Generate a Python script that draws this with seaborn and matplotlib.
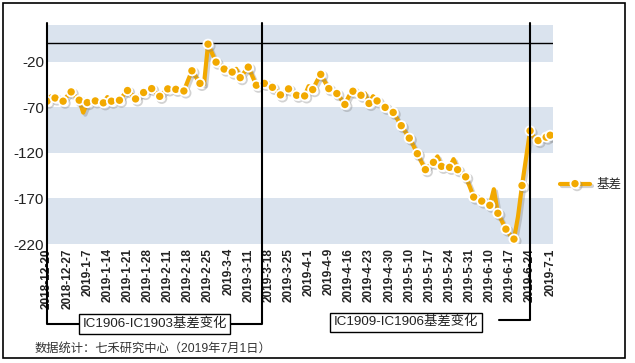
import numpy as np
import pandas as pd
import matplotlib
matplotlib.use("Agg")
import matplotlib.pyplot as plt
import matplotlib.patheffects as pe
import matplotlib.transforms as mtransforms
from matplotlib.lines import Line2D
import seaborn as sns

# weekly labels, one every 5 trading days
tick_labels = [
    "2018-12-20", "2018-12-27", "2019-1-7", "2019-1-14", "2019-1-21", "2019-1-28",
    "2019-2-11", "2019-2-18", "2019-2-25", "2019-3-4", "2019-3-11", "2019-3-18",
    "2019-3-25", "2019-4-1", "2019-4-9", "2019-4-16", "2019-4-23", "2019-4-30",
    "2019-5-10", "2019-5-17", "2019-5-24", "2019-5-31", "2019-6-10", "2019-6-17",
    "2019-6-24", "2019-7-1",
]
tick_every = 5

# daily basis values (one per trading day)
basis = [
    -63.5, -58, -60, -62, -63.5, -58, -53.3, -58, -62.4, -76,
    -65, -64, -63.2, -64, -65.3, -59, -63.5, -63, -62.5, -57,
    -51.8, -56, -61, -57, -54, -52, -49.7, -54, -58.2, -54,
    -50, -50, -50.5, -51, -52.3, -41, -30.2, -37, -44, -45,
    -1, -11, -20.7, -24, -28.3, -30, -31.6, -28, -37.7, -32,
    -26.2, -36, -46, -45, -44, -46, -48.3, -52, -56.6, -53,
    -50, -53, -57, -57, -57.7, -47, -50.8, -42, -34.1, -42,
    -49.7, -52, -55.1, -61, -67.1, -58, -52.6, -55, -57, -55,
    -66, -58, -63.2, -67, -70.3, -72, -75.8, -83, -90.3, -97,
    -104, -112, -121, -130, -138.5, -134, -130.5, -124, -134.9, -136,
    -136, -127, -138.5, -142, -146.4, -157, -168.6, -171, -173, -175,
    -177.6, -160, -186.3, -195, -203.7, -210, -214.6, -190, -155.9, -126,
    -96, -103, -106.6, -105, -102.9, -100.8,
]
marked = list(range(0, 125, 2)) + [125]

series_name = "基差"
roll_1 = 53.3   # IC1903 -> IC1906
roll_2 = 120.0  # IC1906 -> IC1909
bracket_1_label = "IC1906-IC1903基差变化"
bracket_2_label = "IC1909-IC1906基差变化"
source_note = "数据统计：七禾研究中心（2019年7月1日）"

df = pd.DataFrame({"pos": np.arange(len(basis)), "basis": basis})

sns.set_style("white")
plt.rcParams["font.family"] = ["Liberation Sans", "Noto Sans CJK SC"]

ORANGE = "#F2A900"
BAND = "#DAE3EE"
shadow = [pe.SimpleLineShadow(offset=(1.5, -1.5), shadow_color="#7f7f7f", alpha=0.35), pe.Normal()]

fig = plt.figure(figsize=(6.35, 3.63), dpi=100)
ax = fig.add_axes([47 / 635, 1 - 244 / 363, (553 - 47) / 635, (244 - 25) / 363])

# alternating bands and the zero line
for lo, hi in [(-20, 20), (-120, -70), (-220, -170)]:
    ax.axhspan(lo, hi, color=BAND, lw=0, zorder=0)
ax.axhline(0, color="black", lw=1, zorder=1)

sns.lineplot(data=df, x="pos", y="basis", ax=ax, color=ORANGE, linewidth=3,
             marker="o", markersize=6.6, markerfacecolor=ORANGE,
             markeredgecolor="white", markeredgewidth=1.3, markevery=marked,
             legend=False, zorder=3)
ax.lines[-1].set_path_effects(shadow)

ax.set_xlim(0, 125.7)
ax.set_ylim(-220, 20)
ax.set_yticks([-220, -170, -120, -70, -20])
ax.set_yticklabels(["-220", "-170", "-120", "-70", "-20"], fontsize=11, color="#222222")
ax.set_xticks(np.arange(0, len(basis), tick_every))
ax.set_xticklabels(tick_labels, rotation=90, fontsize=8.5, fontweight="bold", color="#222222")
ax.tick_params(length=0)
ax.tick_params(axis="x", pad=3)
ax.tick_params(axis="y", pad=2)
ax.set_xlabel("")
ax.set_ylabel("")
for s in ax.spines.values():
    s.set_visible(False)

# contract brackets below the axis
trans = mtransforms.blended_transform_factory(ax.transData, ax.transAxes)
y_top = 1.01
y_b1 = (244 - 324) / 219
y_b2 = (244 - 320) / 219
ax.plot([0, 0, roll_1, roll_1], [y_top, y_b1, y_b1, y_top], transform=trans,
        color="black", lw=1.5, clip_on=False, zorder=4)
ax.plot([roll_2 - 7.7, roll_2, roll_2], [y_b2, y_b2, y_top], transform=trans,
        color="black", lw=1.5, clip_on=False, zorder=4)
box = dict(boxstyle="square,pad=0.25", fc="white", ec="black", lw=1)
ax.text(26.8, y_b1, bracket_1_label, transform=trans, ha="center", va="center",
        fontsize=9.6, color="#222222", bbox=box, zorder=5)
ax.text(89.2, y_b2 - 0.01, bracket_2_label, transform=trans, ha="center", va="center",
        fontsize=9.6, color="#222222", bbox=box, zorder=5)

handle = Line2D([], [], color=ORANGE, lw=3, marker="o", markersize=6.6,
                markerfacecolor=ORANGE, markeredgecolor="white", markeredgewidth=1.3,
                markevery=[1], path_effects=shadow)
fig.legend(handles=[handle], labels=[series_name], loc="center left",
           bbox_to_anchor=(560 / 635, 1 - 185 / 363), frameon=False, fontsize=9,
           handlelength=2.4, handletextpad=0.5, numpoints=1, borderpad=0, borderaxespad=0)

fig.text(35 / 635, 1 - 349 / 363, source_note, fontsize=8.8, color="#333333",
         ha="left", va="center")

fig.add_artist(plt.Rectangle((3 / 635, 5 / 363), 622 / 635, 355 / 363,
                             transform=fig.transFigure, fill=False, ec="black", lw=1.2))

fig.savefig("out.png", dpi=100)
